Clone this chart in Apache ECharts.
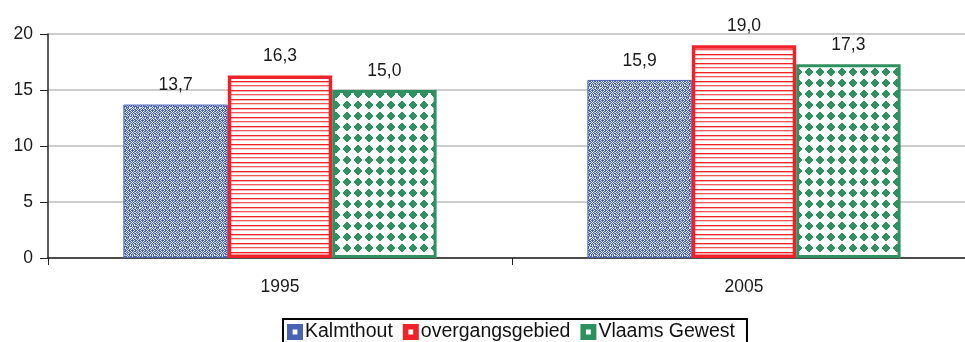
<!DOCTYPE html>
<html>
<head>
<meta charset="utf-8">
<script src="https://cdn.jsdelivr.net/npm/echarts@6/dist/echarts.min.js"></script>
<style>
  html, body { margin: 0; padding: 0; background: #fff; }
  #chart { width: 965px; height: 342px; }
</style>
</head>
<body>
<div id="chart"></div>
<script>
// Years shown on the category axis
const years = ['1995', '2005'];
// Series names and values per year
const seriesNames = ['Kalmthout', 'overgangsgebied', 'Vlaams Gewest'];
const kalmthout = [13.7, 15.9];
const overgangsgebied = [16.3, 19.0];
const vlaamsGewest = [15.0, 17.3];
// Value axis ticks
const yTicks = [0, 5, 10, 15, 20];

const BLUE = '#4862b4';
const RED = '#ee2228';
const GREEN = '#2f9160';
const FONT = 'Liberation Sans, Arial, sans-serif';

// Fill tiles for the hatched bars
function tile(w, h, draw) {
  const c = document.createElement('canvas');
  c.width = w; c.height = h;
  draw(c.getContext('2d'));
  return c;
}
const bluePattern = tile(10, 10, ctx => {
  ctx.fillStyle = BLUE; ctx.fillRect(0, 0, 10, 10);
  ctx.fillStyle = '#e8edf9';
  // ring-and-cross lattice
  const pts = [
    [1,1],[3,1],[2,2],[1,3],[3,3],[0,0],[4,0],[0,4],[4,4],
    [7,0],[6,1],[8,1],[5,2],[9,2],
    [0,5],[2,5],[4,5],[6,5],[8,5],
    [7,4],[7,6],[5,8],[9,8],[6,9],[8,9],
    [1,7],[3,7],[2,8],[1,9],[3,9],
    [6,3],[8,3],[5,7],[9,7],[2,6],[0,7]
  ];
  pts.forEach(p => ctx.fillRect(p[0], p[1], 1, 1));
  ctx.fillStyle = 'rgba(232,237,249,0.6)';
  [[5,5],[0,2],[2,4],[9,6],[0,8],[7,2],[7,8],[4,2],[4,8]].forEach(p => ctx.fillRect(p[0], p[1], 1, 1));
});
const redPattern = tile(8, 9, ctx => {
  ctx.fillStyle = '#ffffff'; ctx.fillRect(0, 0, 8, 9);
  ctx.fillStyle = RED; ctx.fillRect(0, 0, 8, 1);
  ctx.fillStyle = 'rgba(238,34,40,0.35)'; ctx.fillRect(0, 1, 8, 1);
  ctx.fillStyle = 'rgba(238,34,40,0.75)'; ctx.fillRect(0, 4, 8, 1);
  ctx.fillStyle = 'rgba(238,34,40,0.25)'; ctx.fillRect(0, 5, 8, 1);
});
const greenPattern = tile(11, 11, ctx => {
  ctx.fillStyle = '#ffffff'; ctx.fillRect(0, 0, 11, 11);
  ctx.fillStyle = GREEN;
  ctx.fillRect(3, 4, 6, 4);
  ctx.fillRect(4, 3, 4, 6);
  ctx.fillRect(5, 2, 2, 8);
  ctx.fillRect(2, 5, 8, 2);
});

const fills = [bluePattern, redPattern, greenPattern];
const borders = [BLUE, RED, GREEN];
const borderWidths = [1, 3.5, 3];
const values = [kalmthout, overgangsgebied, vlaamsGewest];

const chart = echarts.init(document.getElementById('chart'), null, { renderer: 'canvas' });

const series = seriesNames.map((name, i) => ({
  name,
  type: 'bar',
  data: values[i],
  barGap: '0%',
  barCategoryGap: '32.5%',
  itemStyle: {
    color: { image: fills[i], repeat: 'repeat' },
    borderColor: borders[i],
    borderWidth: borderWidths[i]
  },
  label: {
    show: true,
    position: 'top',
    distance: 10,
    color: '#1a1a1a',
    fontFamily: FONT,
    fontSize: 17.5,
    formatter: p => p.value.toFixed(1).replace('.', ',')
  },
  emphasis: { disabled: true }
}));

chart.setOption({
  animation: false,
  backgroundColor: '#ffffff',
  grid: { left: 48, width: 928, top: 34, bottom: 84, outerBoundsMode: 'none' },
  legend: {
    data: seriesNames.map((n, i) => ({
      name: n,
      itemStyle: { color: borders[i], borderWidth: 0 }
    })),
    bottom: -8,
    left: 283,
    itemWidth: 16,
    itemHeight: 16,
    itemGap: 10,
    icon: 'path://M0,0H10V10H0Z M3.5,3.5V6.5H6.5V3.5Z',
    borderColor: '#000',
    borderWidth: 2,
    padding: [3, 12, 8, 4],
    textStyle: {
      color: '#111',
      fontFamily: FONT,
      fontSize: 19.5,
      padding: [0, 0, 0, -3]
    },
    selectedMode: false
  },
  xAxis: {
    type: 'category',
    data: years,
    axisLine: { lineStyle: { color: '#222', width: 1.5 } },
    axisTick: { show: true, alignWithLabel: false, length: 7, lineStyle: { color: '#222' } },
    axisLabel: {
      color: '#1a1a1a',
      fontFamily: FONT,
      fontSize: 17.5,
      margin: 20
    }
  },
  yAxis: {
    type: 'value',
    min: yTicks[0],
    max: yTicks[yTicks.length - 1],
    interval: yTicks[1] - yTicks[0],
    axisLine: { show: true, lineStyle: { color: '#222', width: 1.5 } },
    axisTick: { show: true, length: 8, lineStyle: { color: '#222' } },
    splitLine: { lineStyle: { color: '#bdbdbd', width: 1.5 } },
    axisLabel: {
      color: '#1a1a1a',
      fontFamily: FONT,
      fontSize: 17.5,
      margin: 15
    }
  },
  series
});
</script>
</body>
</html>
